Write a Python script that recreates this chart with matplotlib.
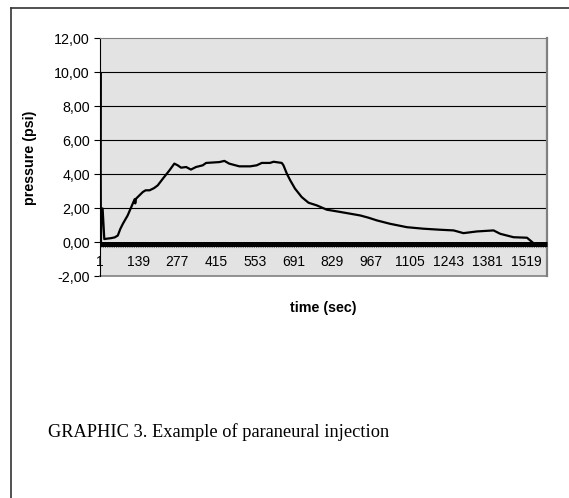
import numpy as np
import matplotlib.pyplot as plt
from matplotlib.lines import Line2D

# sample index (1 sample per second) and pressure
time = [1, 4, 6, 7, 9, 12, 18, 25, 40, 55, 66, 75, 84, 101, 119, 126, 128, 131,
        155, 165, 179, 195, 208, 226, 250, 267, 279, 291, 309, 326, 344, 368,
        380, 427, 445, 462, 498, 537, 560, 578, 607, 620, 649, 655, 667, 679,
        696, 720, 744, 774, 809, 845, 880, 928, 957, 987, 1034, 1094, 1153,
        1212, 1260, 1295, 1343, 1402, 1426, 1473, 1521, 1544, 1580, 1590]
pressure = [0.0, 10.0, 0.0, 1.0, 2.0, 2.0, 0.2, 0.22, 0.25, 0.3, 0.41, 0.8, 1.1,
            1.59, 2.28, 2.55, 2.3, 2.58, 2.97, 3.07, 3.07, 3.2, 3.36, 3.75, 4.25,
            4.64, 4.54, 4.4, 4.44, 4.29, 4.44, 4.54, 4.68, 4.73, 4.8, 4.64, 4.48,
            4.48, 4.54, 4.68, 4.68, 4.75, 4.68, 4.54, 4.05, 3.66, 3.17, 2.67,
            2.34, 2.18, 1.93, 1.83, 1.73, 1.59, 1.46, 1.3, 1.1, 0.9, 0.81, 0.75,
            0.71, 0.55, 0.65, 0.71, 0.51, 0.31, 0.28, -0.04, -0.08, -0.08]

xticks = [1, 139, 277, 415, 553, 691, 829, 967, 1105, 1243, 1381, 1519]
yticks = [-2, 0, 2, 4, 6, 8, 10, 12]

plt.rcParams['font.family'] = ['Liberation Sans', 'DejaVu Sans']

fig = plt.figure(figsize=(5.69, 4.98), dpi=100)
ax = fig.add_axes([0.1749, 0.4448, 0.9613 - 0.1749, 0.9227 - 0.4448])
ax.set_facecolor('#e3e3e3')

for y in yticks[2:-1]:
    ax.axhline(y, color='black', lw=0.8, zorder=1)
ax.axhline(-0.28, color='#777777', lw=0.8, ls=(0, (1, 1)), zorder=2)
ax.axhline(-2, color='#808080', lw=1.2, zorder=2, clip_on=False)

ax.plot(time, pressure, color='black', lw=1.6, zorder=4)

ax.set_xlim(1, 1592)
ax.set_ylim(-2, 12)
ax.set_yticks(yticks)
ax.set_yticklabels([f'{v:.2f}'.replace('.', ',') for v in yticks], fontsize=10.3)
ax.set_xticks(xticks)
ax.set_xticklabels([str(v) for v in xticks], fontsize=10.3)
ax.tick_params(axis='x', length=0, pad=8)
ax.tick_params(axis='y', length=4, width=0.8, pad=3)

# category axis crosses the value axis just at zero
ax.spines['bottom'].set_position(('data', -0.1))
ax.spines['bottom'].set_linewidth(3.6)
ax.spines['bottom'].set_color('black')
ax.spines['bottom'].set_capstyle('butt')
ax.spines['bottom'].set_zorder(3)
ax.spines['top'].set_color('#808080')
ax.spines['right'].set_color('#808080')
ax.spines['right'].set_linewidth(1.6)
ax.spines['left'].set_color('black')

ax.set_ylabel('pressure (psi)', fontsize=10.3, fontweight='bold', labelpad=12)
ax.set_xlabel('time (sec)', fontsize=10.3, fontweight='bold')
ax.xaxis.set_label_coords(0.5, -0.105)

# page frame and caption
fig.add_artist(Line2D([11 / 569, 1], [1 - 8 / 498, 1 - 8 / 498], color='#333333', lw=1.2))
fig.add_artist(Line2D([11 / 569, 11 / 569], [0, 1 - 8 / 498], color='#333333', lw=1.2))
fig.text(48 / 569, 1 - 432 / 498, 'GRAPHIC 3. Example of paraneural injection',
         family='Liberation Serif', fontsize=13.2, va='center', ha='left')

fig.savefig('out.png', dpi=100)
